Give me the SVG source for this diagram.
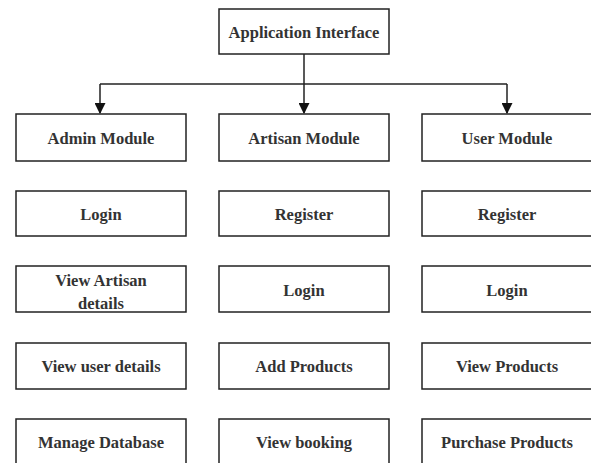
<svg xmlns="http://www.w3.org/2000/svg" width="591" height="463" viewBox="0 0 591 463">
<style>
.box{fill:#fff;stroke:#222;stroke-width:1.5}
.t{font-family:"Liberation Serif","Times New Roman",serif;font-weight:bold;font-size:16.5px;fill:#333;text-anchor:middle;dominant-baseline:central}
.c{fill:none;stroke:#222;stroke-width:1.5}
</style>
<defs>
<marker id="ah" viewBox="0 0 10 10" refX="9" refY="5" markerWidth="11" markerHeight="11" markerUnits="userSpaceOnUse" orient="auto">
<path d="M0,0 L10,5 L0,10 Z" fill="#111"/>
</marker>
</defs>
<rect width="591" height="463" fill="#fff"/>
<g id="connectors">
<path class="c" d="M304,54 V113" marker-end="url(#ah)"/>
<path class="c" d="M100,84 H507"/>
<path class="c" d="M100,84 V113" marker-end="url(#ah)"/>
<path class="c" d="M507,84 V113" marker-end="url(#ah)"/>
</g>
<g id="app"><rect class="box" x="219" y="9" width="170" height="45"/><text class="t" x="304" y="32">Application Interface</text></g>
<g id="admin"><rect class="box" x="16" y="114" width="170" height="47"/><text class="t" x="101" y="138">Admin Module</text></g>
<g id="artisan"><rect class="box" x="219" y="114" width="170" height="47"/><text class="t" x="304" y="138">Artisan Module</text></g>
<g id="user"><rect class="box" x="422" y="114" width="170" height="47"/><text class="t" x="507" y="138">User Module</text></g>
<g id="admin-login"><rect class="box" x="16" y="191" width="170" height="45"/><text class="t" x="101" y="214">Login</text></g>
<g id="artisan-register"><rect class="box" x="219" y="191" width="170" height="45"/><text class="t" x="304" y="214">Register</text></g>
<g id="user-register"><rect class="box" x="422" y="191" width="170" height="45"/><text class="t" x="507" y="214">Register</text></g>
<g id="admin-view-artisan"><rect class="box" x="16" y="266" width="170" height="46"/><text class="t" x="101" y="280">View Artisan</text><text class="t" x="101" y="303">details</text></g>
<g id="artisan-login"><rect class="box" x="219" y="266" width="170" height="46"/><text class="t" x="304" y="290">Login</text></g>
<g id="user-login"><rect class="box" x="422" y="266" width="170" height="46"/><text class="t" x="507" y="290">Login</text></g>
<g id="admin-view-user"><rect class="box" x="16" y="343" width="170" height="46"/><text class="t" x="101" y="366">View user details</text></g>
<g id="artisan-add"><rect class="box" x="219" y="343" width="170" height="46"/><text class="t" x="304" y="366">Add Products</text></g>
<g id="user-view"><rect class="box" x="422" y="343" width="170" height="46"/><text class="t" x="507" y="366">View Products</text></g>
<g id="admin-db"><rect class="box" x="16" y="419" width="170" height="46"/><text class="t" x="101" y="442">Manage Database</text></g>
<g id="artisan-booking"><rect class="box" x="219" y="419" width="170" height="46"/><text class="t" x="304" y="442">View booking</text></g>
<g id="user-purchase"><rect class="box" x="422" y="419" width="170" height="46"/><text class="t" x="507" y="442">Purchase Products</text></g>
</svg>
